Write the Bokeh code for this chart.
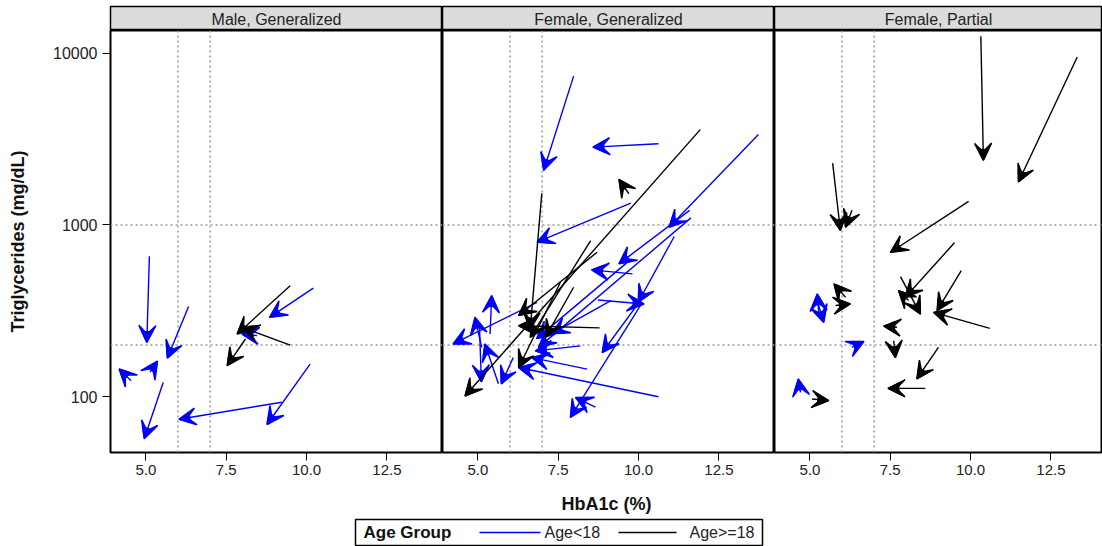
from bokeh.plotting import figure
from bokeh.models import (ColumnDataSource, Range1d, Arrow, VeeHead, NormalHead, Span, FixedTicker,
                          PrintfTickFormatter)
from bokeh.layouts import column, row
from bokeh.embed import file_html
from bokeh.resources import INLINE
from bokeh.core.properties import value

# ---------------- data ----------------
panels = ["Male, Generalized", "Female, Generalized", "Female, Partial"]
age_groups = ["Age<18", "Age>=18"]
group_colors = ["#0000ff", "#000000"]
x_ticks = [5.0, 7.5, 10.0, 12.5]
y_ticks = [100, 1000, 10000]
hba1c_refs = [6, 7]
tg_refs = [200, 1000]

# one entry per patient: panel index, age group index, baseline -> follow-up
arrow_panel = [0, 0, 0, 0, 0, 0, 0, 0, 0, 0, 0, 0,
               1, 1, 1, 1, 1, 1, 1, 1, 1, 1, 1, 1, 1, 1, 1, 1, 1, 1, 1, 1, 1, 1, 1,
               1, 1, 1, 1, 1, 1, 1, 1,
               2, 2, 2, 2, 2, 2, 2, 2, 2, 2, 2, 2, 2, 2, 2, 2, 2,
               2, 2, 2, 2]
arrow_group = [0, 0, 0, 0, 0, 0, 0, 0, 0, 1, 1, 1,
               0, 0, 0, 0, 0, 0, 0, 0, 0, 0, 0, 0, 0, 0, 0, 0, 0, 0, 0, 0, 0, 0, 0,
               1, 1, 1, 1, 1, 1, 1, 1,
               1, 1, 1, 1, 1, 1, 1, 1, 1, 1, 1, 1, 1, 1, 1, 1, 1,
               0, 0, 0, 0]
hba1c_base = [5.11, 6.33, 4.54, 5.13, 5.54, 9.23, 10.11, 10.21, 8.46, 9.49, 9.49, 8.10,
              7.98, 10.62, 13.73, 11.59, 11.63, 9.76, 9.81, 11.11, 8.74, 10.17, 10.12, 8.66,
              10.62, 8.40, 8.19, 6.84, 5.38, 5.12, 5.64, 5.05, 6.10, 9.64, 9.14,
              9.70, 11.92, 6.99, 8.79, 8.71, 8.51, 7.98, 7.57,
              10.32, 13.32, 5.71, 6.31, 9.94, 9.50, 9.71, 10.60, 7.82, 8.07, 9.00, 8.59,
              7.71, 7.61, 5.07, 6.11, 5.80,
              5.28, 5.23, 6.31, 4.71]
hba1c_follow = [5.03, 5.67, 4.17, 5.36, 4.95, 6.03, 8.77, 8.85, 7.99, 7.84, 7.99, 7.53,
                7.05, 8.58, 10.95, 9.39, 6.89, 6.84, 8.54, 9.99, 10.17, 8.87, 7.88, 8.04,
                6.27, 6.68, 6.79, 4.23, 5.43, 4.91, 5.22, 5.11, 5.73, 6.83, 7.30,
                9.39, 4.60, 6.63, 6.27, 6.27, 6.63, 7.10, 6.27,
                10.40, 11.49, 5.95, 6.11, 7.51, 7.97, 8.96, 8.85, 8.44, 7.76, 8.33, 7.43,
                7.30, 7.66, 5.59, 5.75, 6.26,
                5.23, 5.43, 6.68, 4.64]
tg_base = [658, 335, 124, 139, 121, 93, 155, 429, 227, 443, 200, 217,
           7350, 2970, 3360, 1217, 1100, 1340, 519, 857, 366, 388, 355, 87,
           100, 145, 198, 355, 232, 194, 119, 259, 169, 604, 363,
           1520, 3590, 1530, 252, 694, 812, 434, 464,
           12560, 9500, 2290, 1217, 1371, 788, 543, 250, 501, 363, 194, 112,
           254, 212, 97, 380, 340,
           303, 363, 194, 106]
tg_follow = [207, 168, 145, 161, 57, 74, 69, 290, 232, 232, 254, 152,
             2080, 2840, 970, 594, 194, 794, 548, 355, 347, 181, 76, 99,
             148, 169, 185, 203, 388, 290, 203, 122, 119, 218, 233,
             1840, 101, 248, 259, 297, 222, 222, 148,
             2380, 1780, 929, 970, 694, 380, 317, 310, 303, 415, 127, 112,
             258, 169, 95, 454, 347,
             397, 271, 210, 127]

# ---------------- layout constants ----------------
FONT = "Liberation Sans"
LEFT = 110
TOP = 6
HEAD_H = 24
FRAME_H = 422
BOTTOM = 38
X0, X1 = 3.9, 14.23
FRAME_W = 332
widths = [332, 332, 328]

y_range = Range1d(47.4, 13550)

headers, plots = [], []
for i, name in enumerate(panels):
    fw = widths[i]
    lb = LEFT if i == 0 else 0
    xend = X0 + (X1 - X0) * fw / FRAME_W

    h = figure(width=fw + lb, height=HEAD_H + TOP, x_range=Range1d(0, 1), y_range=Range1d(0, 1),
               toolbar_location=None, output_backend="svg", x_axis_location=None,
               y_axis_location=None, min_border_left=lb, min_border_right=0,
               min_border_top=TOP, min_border_bottom=0)
    h.grid.visible = False
    h.background_fill_color = "#dcdcdc"
    h.border_fill_color = "white"
    h.outline_line_color = "black"
    h.outline_line_width = 1.5
    h.text(x=[0.5], y=[0.45], text=[name], text_align="center", text_baseline="middle",
           text_font=value(FONT), text_font_size="16px", text_color="#222222")
    headers.append(h)

    p = figure(width=fw + lb, height=FRAME_H + BOTTOM, x_range=Range1d(X0, xend), y_range=y_range,
               y_axis_type="log", y_axis_location="left" if i == 0 else None,
               toolbar_location=None, output_backend="svg",
               min_border_left=lb, min_border_right=0, min_border_top=0, min_border_bottom=BOTTOM)
    p.grid.visible = False
    p.outline_line_color = "black"
    p.outline_line_width = 2
    p.border_fill_color = "white"

    p.xaxis.ticker = FixedTicker(ticks=x_ticks)
    p.xaxis.formatter = PrintfTickFormatter(format="%.1f")
    p.xaxis.axis_line_color = "black"
    p.xaxis.major_tick_in = 0
    p.xaxis.major_tick_out = 8
    p.xaxis.minor_tick_line_color = None
    p.xaxis.major_label_text_font = FONT
    p.xaxis.major_label_text_font_size = "15px"
    p.xaxis.major_label_text_color = "#222222"
    p.xaxis.major_label_standoff = 4
    if i == 0:
        p.yaxis.ticker = FixedTicker(ticks=y_ticks)
        p.yaxis.formatter = PrintfTickFormatter(format="%d")
        p.yaxis.axis_line_color = "black"
        p.yaxis.major_tick_in = 0
        p.yaxis.major_tick_out = 8
        p.yaxis.minor_tick_line_color = None
        p.yaxis.major_label_text_font = FONT
        p.yaxis.major_label_text_font_size = "16px"
        p.yaxis.major_label_text_color = "#222222"
        p.yaxis.major_label_standoff = 5
        p.yaxis.axis_label = "Triglycerides (mg/dL)"
        p.yaxis.axis_label_text_font = FONT
        p.yaxis.axis_label_text_font_style = "bold"
        p.yaxis.axis_label_text_font_size = "18px"
        p.yaxis.axis_label_text_color = "#111111"
        p.yaxis.axis_label_standoff = 22

    for xr in hba1c_refs:
        p.add_layout(Span(location=xr, dimension="height", line_color="#9a9a9a",
                          line_dash="2 3", line_width=1.5))
    for yr in tg_refs:
        p.add_layout(Span(location=yr, dimension="width", line_color="#9a9a9a",
                          line_dash="2 3", line_width=1.5))

    for g, col in enumerate(group_colors):
        idx = [k for k in range(len(arrow_panel)) if arrow_panel[k] == i and arrow_group[k] == g]
        if not idx:
            continue
        src = ColumnDataSource(dict(
            x0=[hba1c_base[k] for k in idx], x1=[hba1c_follow[k] for k in idx],
            y0=[tg_base[k] for k in idx], y1=[tg_follow[k] for k in idx]))
        p.add_layout(Arrow(x_start="x0", y_start="y0", x_end="x1", y_end="y1", source=src,
                           line_color=col, line_width=1.4,
                           end=VeeHead(size=17, fill_color=col, fill_alpha=1.0,
                                       line_color=col, line_width=1.5)))
        # inner solid head to make the barbed arrowhead look solid (shallow notch)
        p.add_layout(Arrow(x_start="x0", y_start="y0", x_end="x1", y_end="y1", source=src,
                           line_color=None,
                           end=NormalHead(size=11, fill_color=col, fill_alpha=1.0,
                                          line_color=col, line_width=1)))
    plots.append(p)

# ---------------- x label + legend strip ----------------
lg = figure(width=1102, height=56, x_range=Range1d(0, 1102), y_range=Range1d(0, 56),
            toolbar_location=None, output_backend="svg", x_axis_location=None,
            y_axis_location=None, min_border=0)
lg.grid.visible = False
lg.outline_line_color = None
lg.text(x=[606], y=[42.5], text=["HbA1c (%)"], text_align="center", text_baseline="middle",
        text_font=value(FONT), text_font_style="bold", text_font_size="18px", text_color="#111111")
lg.quad(left=[355], right=[762], bottom=[1], top=[27], fill_color=None,
        line_color="black", line_width=1.5)
lg.text(x=[363], y=[14], text=["Age Group"], text_align="left", text_baseline="middle",
        text_font=value(FONT), text_font_style="bold", text_font_size="17px", text_color="#111111")
lg.segment(x0=[479, 618], x1=[540, 676], y0=[14, 14], y1=[14, 14],
           line_color=group_colors, line_width=1.5)
lg.text(x=[544, 689], y=[14, 14], text=age_groups, text_align="left", text_baseline="middle",
        text_font=value(FONT), text_font_size="16px", text_color="#222222")

layout = column(row(*headers), row(*plots), lg)
open("out.html", "w").write(file_html(layout, INLINE))
